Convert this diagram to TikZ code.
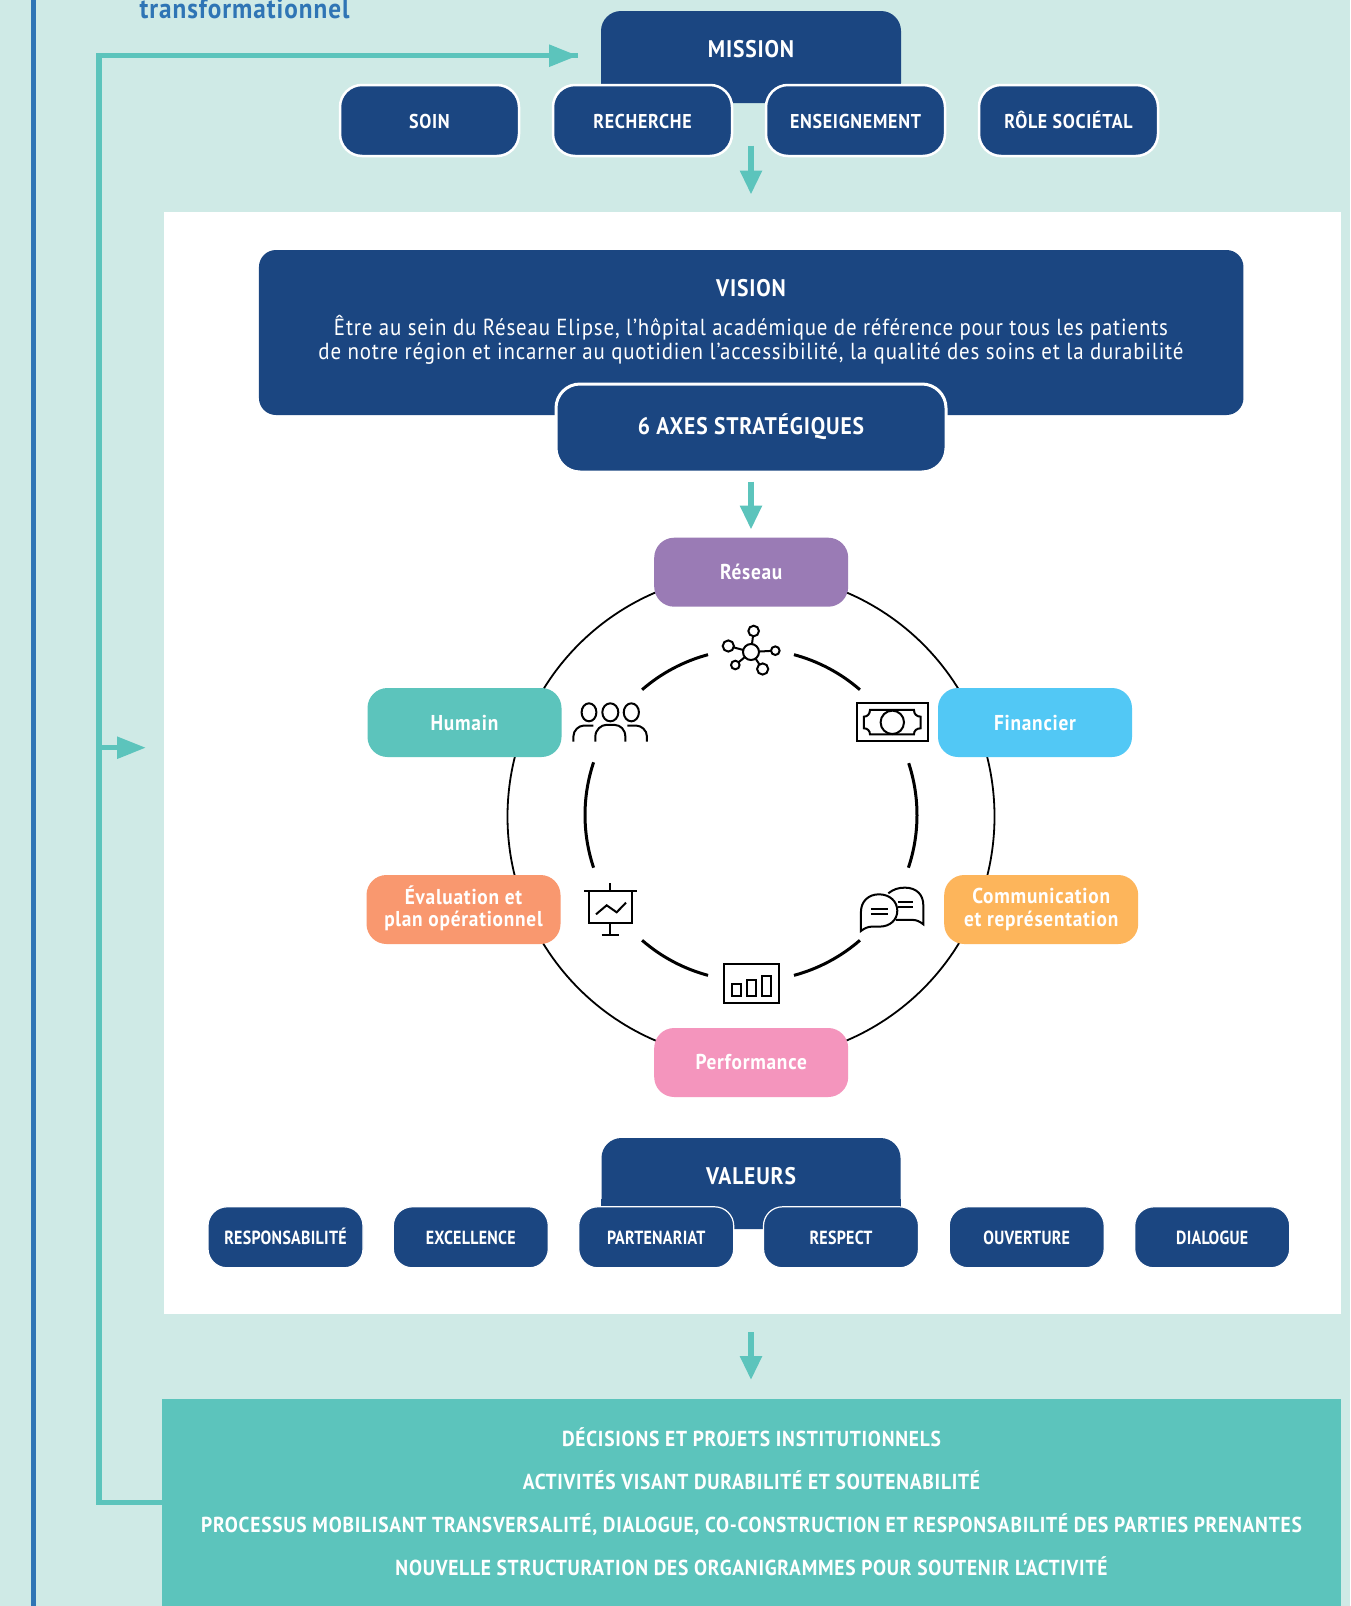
\documentclass[tikz,border=0pt]{standalone}
\usepackage{fontspec}
\usetikzlibrary{arrows.meta}
\setmainfont{PT Sans}[FakeStretch=0.9,LetterSpace=3.5]
\newfontfamily\vfnt{PT Sans}[FakeStretch=0.84,LetterSpace=1.5]
\definecolor{mint}{HTML}{CFEAE6}
\definecolor{navy}{HTML}{1B4681}
\definecolor{tealc}{HTML}{5CC4BC}
\definecolor{barblue}{HTML}{2F75B5}
\definecolor{purplec}{HTML}{9A7BB5}
\definecolor{skyc}{HTML}{52C8F5}
\definecolor{orangec}{HTML}{F9986F}
\definecolor{amberc}{HTML}{FDB55B}
\definecolor{pinkc}{HTML}{F495BD}
\tikzset{
  wbox/.style={rectangle,rounded corners=22pt,fill=navy,draw=white,line width=2.5pt,text=white,minimum width=179pt,minimum height=71pt,inner sep=0pt,text height=16pt,text depth=0pt,font=\bfseries\fontsize{20}{22}\selectfont},
  vbox/.style={wbox,rounded corners=19pt,line width=1.2pt,minimum width=155pt,minimum height=61pt,text height=15pt,font=\vfnt\bfseries\fontsize{19}{20}\selectfont},
  headbox/.style={rectangle,rounded corners=20pt,fill=navy,text=white,minimum width=300pt,minimum height=92pt,inner sep=0pt,font=\bfseries\fontsize{24}{26}\selectfont},
  axe/.style={rectangle,rounded corners=20pt,text=white,minimum width=194pt,minimum height=69pt,inner sep=0pt,align=center,font=\bfseries\fontsize{21.5}{22.5}\selectfont},
  flow/.style={line width=5.5pt,draw=tealc,-{Triangle[length=24pt,width=21pt,fill=tealc]}},
  flowh/.style={line width=5.5pt,draw=tealc,-{Triangle[length=29pt,width=21pt,fill=tealc]}},
  ring/.style={line width=1.8pt,draw=black},
  arcseg/.style={line width=3pt,draw=black},
  ico/.style={line width=2pt,draw=black},
}
\begin{document}
\begin{tikzpicture}[x=1pt,y=-1pt]
\fill[mint] (0,0) rectangle (1350,1606);
\useasboundingbox (0,0) rectangle (1350,1606);
\fill[barblue] (30.5,0) rectangle (35.8,1606);
\node[anchor=base west,inner sep=0pt,text=barblue,font=\bfseries\fontsize{28}{30}\selectfont] (title) at (139.3,18.7) {transformationnel};
% panels
\node[rectangle,fill=white,minimum width=1176.5pt,minimum height=1102pt,inner sep=0pt] (panel) at (752.7,763) {};
\node[rectangle,fill=tealc,text=white,minimum width=1179pt,minimum height=207pt,inner sep=0pt,align=center,font=\bfseries\fontsize{21.65}{43}\selectfont] (dec) at (751.5,1502.5) {DÉCISIONS ET PROJETS INSTITUTIONNELS\\ACTIVITÉS VISANT DURABILITÉ ET SOUTENABILITÉ\\PROCESSUS MOBILISANT TRANSVERSALITÉ, DIALOGUE, CO-CONSTRUCTION ET RESPONSABILITÉ DES PARTIES PRENANTES\\NOUVELLE STRUCTURATION DES ORGANIGRAMMES POUR SOUTENIR L’ACTIVITÉ\rule[-2pt]{0pt}{1pt}};
% feedback line
\coordinate (corner) at (99,55.7);
\coordinate (missiontip) at (578,55.7);
\coordinate (branch) at (99,747.7);
\coordinate (branchtip) at (146,747.7);
\draw[line width=5.5pt,draw=tealc] (dec.west) -| (corner) -- (missiontip);
\draw[flowh] (corner) -- (missiontip);
\draw[flowh] (branch) -- (branchtip);
% mission
\node[headbox] (mission) at (751,57) {\raisebox{16pt}{MISSION}};
\fill[navy] (mission.south west) rectangle ([yshift=30pt]mission.south east);
\node[wbox] (soin) at (429.5,120.5) {SOIN};
\node[wbox] (rech) at (642.5,120.5) {RECHERCHE};
\node[wbox] (ens) at (855.5,120.5) {ENSEIGNEMENT};
\node[wbox] (role) at (1068.5,120.5) {RÔLE SOCIÉTAL};
\coordinate (a1s) at (751,145.5);
\coordinate (a1e) at (751,194.5);
\draw[flow] (a1s) -- (a1e);
% vision
\node[rectangle,rounded corners=17pt,fill=navy,minimum width=984.5pt,minimum height=165pt,inner sep=0pt] (vision) at (751.2,332.5) {};
\node[text=white,inner sep=0pt,font=\bfseries\fontsize{24}{26}\selectfont] (visiont) at (751,288) {VISION};
\node[text=white,inner sep=0pt,align=center,font=\fontsize{23.25}{24}\selectfont] (visionp) at (751,340) {Être au sein du Réseau Elipse, l’hôpital académique de référence pour tous les patients\\de notre région et incarner au quotidien l’accessibilité, la qualité des soins et la durabilité};
\node[wbox,rounded corners=24pt,minimum width=390pt,minimum height=88pt,line width=3pt,text height=17pt,font=\bfseries\fontsize{24}{26}\selectfont] (axes) at (751,428) {\raisebox{2.5pt}{6 AXES STRATÉGIQUES}};
\coordinate (a2s) at (751,481.5);
\coordinate (a2e) at (751,529.5);
\draw[flow] (a2s) -- (a2e);
% rings
\coordinate (ctr) at (751,816.5);
\coordinate (ictr) at (751,815);
\draw[ring] (ctr) circle[radius=243.5pt];
\foreach \a/\b in {105/131,49/75,-18.5/18.2,161.5/198.5,229/255,285/311}{
  \draw[arcseg] ([shift={(\a:166pt)}]ictr) arc[start angle=\a,end angle=\b,radius=166pt];
}
% axes boxes
\node[axe,fill=purplec] (reseau) at (751.2,572.2) {Réseau};
\node[axe,fill=tealc] (humain) at (464.5,722.5) {Humain};
\node[axe,fill=skyc] (fin) at (1035,722.5) {Financier};
\node[axe,fill=orangec] (eval) at (463.5,909.5) {Évaluation et\\plan opérationnel\rule[-7pt]{0pt}{1pt}};
\node[axe,fill=amberc] (comm) at (1041.2,909.5) {Communication\\et représentation};
\node[axe,fill=pinkc] (perf) at (751.2,1062.5) {Performance};
% icons
\begin{scope}[shift={(540,600)},x=.3333pt,y=-.3333pt]
 % network
 \draw[ico] (633,156)--(641,93) (633,156)--(565,138) (633,156)--(706,152) (633,156)--(586,195) (633,156)--(668,207);
 \filldraw[ico,fill=white] (633,156) circle[radius=8pt];
 \filldraw[ico,fill=white] (641,93) circle[radius=5.3pt];
 \filldraw[ico,fill=white] (565,138) circle[radius=5.6pt];
 \filldraw[ico,fill=white] (706,152) circle[radius=4.3pt];
 \filldraw[ico,fill=white] (586,195) circle[radius=4.3pt];
 \filldraw[ico,fill=white] (668,207) circle[radius=5.6pt];
 % people
 \draw[ico] (147,337) ellipse[x radius=7.4pt,y radius=9pt];
 \draw[ico] (211,337) ellipse[x radius=8pt,y radius=9pt];
 \draw[ico] (274,337) ellipse[x radius=7.6pt,y radius=9pt];
 \draw[ico] (166,425) -- (166,410) .. controls (166,388) and (185,375) .. (197,375) -- (225,375) .. controls (240,375) and (256,388) .. (256,410) -- (256,425);
 \draw[ico] (100,425) -- (100,410) .. controls (100,390) and (118,377) .. (130,377) -- (160,377);
 \draw[ico] (321,425) -- (321,410) .. controls (321,390) and (303,377) .. (290,377) -- (262,377);
 % money
 \draw[ico] (950,310) rectangle (1163,424);
 \draw[ico] (990,330) -- (1122,330) .. controls (1122,342) and (1130,350) .. (1142,350) -- (1142,385) .. controls (1130,385) and (1122,392) .. (1122,403) -- (990,403) .. controls (990,392) and (982,385) .. (972,385) -- (972,350) .. controls (982,350) and (990,342) .. (990,330) -- cycle;
 \draw[ico] (1057,367) circle[radius=11.7pt];
 % presentation
 \draw[ico] (146,873) rectangle (275,970);
 \draw[ico,line width=2.6pt] (132,873) -- (290,873);
 \draw[ico] (210,850) -- (210,873) (210,970) -- (210,1005) (185,1005) -- (237,1005);
 \draw[ico] (168,943) -- (200,916) -- (230,937) -- (258,908);
 % chart
 \draw[ico] (551,1091) rectangle (717,1208);
 \draw[ico] (576,1153) rectangle (602,1187);
 \draw[ico] (620,1140) rectangle (647,1187);
 \draw[ico] (665,1127) rectangle (692,1187);
 % chat
 \draw[ico] (1045,880) .. controls (1060,868) and (1075,863) .. (1095,863) .. controls (1130,863) and (1150,885) .. (1150,915) -- (1150,973) .. controls (1140,965) and (1130,960) .. (1120,960) -- (1068,960);
 \draw[ico] (1075,905) -- (1120,905) (1075,921) -- (1120,921);
 \filldraw[ico,fill=white] (963,993) -- (963,935) .. controls (963,905) and (985,883) .. (1017,883) .. controls (1050,883) and (1072,905) .. (1072,932) .. controls (1072,960) and (1050,980) .. (1018,980) -- (995,980) .. controls (985,980) and (973,985) .. (963,993) -- cycle;
 \draw[ico] (993,927) -- (1045,927) (993,942) -- (1045,942);
\end{scope}
% valeurs
\node[headbox,minimum width=299pt,minimum height=91pt] (val) at (751,1183.5) {\raisebox{15pt}{VALEURS}};
\fill[navy] (val.south west) rectangle ([yshift=30pt]val.south east);
\node[vbox] (v1) at (285.5,1237.3) {RESPONSABILITÉ};
\node[vbox] (v2) at (470.8,1237.3) {EXCELLENCE};
\node[vbox] (v3) at (656.2,1237.3) {PARTENARIAT};
\node[vbox] (v4) at (841,1237.3) {RESPECT};
\node[vbox] (v5) at (1026.7,1237.3) {OUVERTURE};
\node[vbox] (v6) at (1212.2,1237.3) {DIALOGUE};
\coordinate (a3s) at (751,1332);
\coordinate (a3e) at (751,1380);
\draw[flow] (a3s) -- (a3e);
\end{tikzpicture}
\end{document}
